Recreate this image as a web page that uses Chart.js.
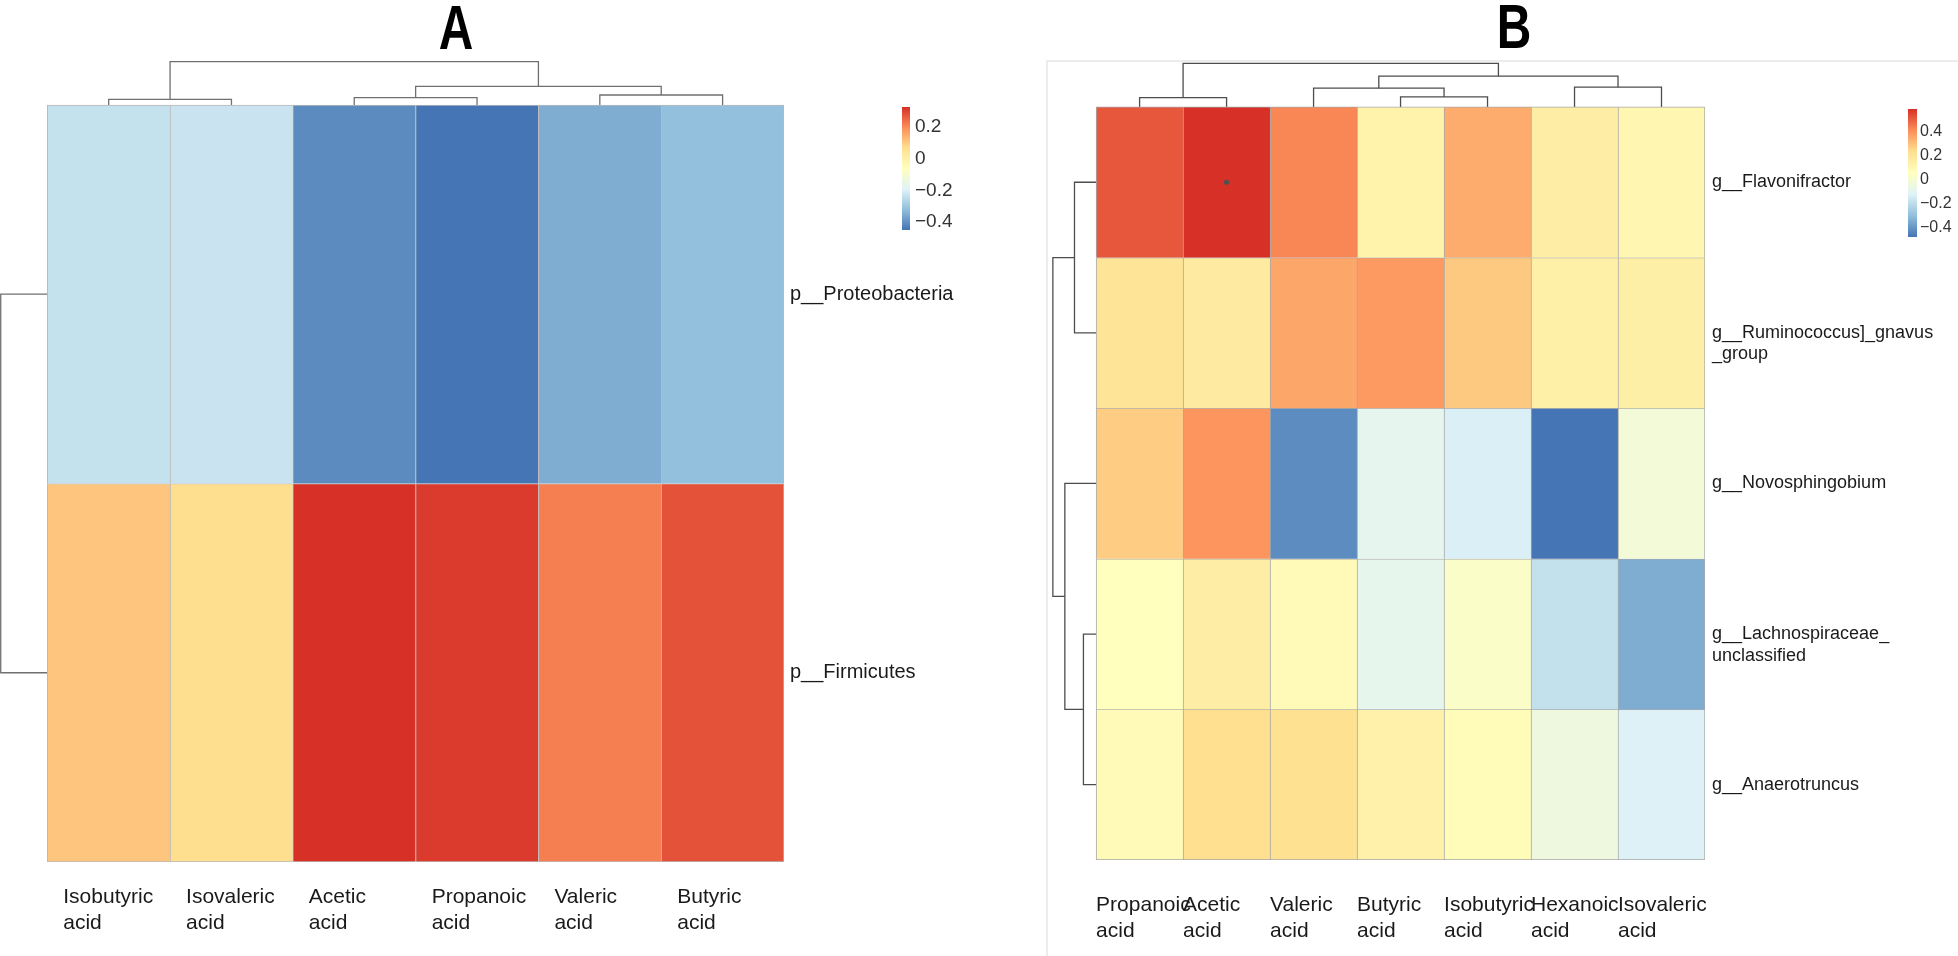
<!DOCTYPE html>
<html>
<head>
<meta charset="utf-8">
<script src="https://cdn.jsdelivr.net/npm/chart.js@4.4.1/dist/chart.umd.min.js"></script>
<style>
  html, body { margin: 0; padding: 0; background: #fff; }
  body { width: 1958px; height: 956px; position: relative; overflow: hidden; }
  .panel-title { position: absolute; width: 80px; text-align: center; font: bold 63px/63px "Liberation Sans", Arial, sans-serif; color: #000; transform: scaleX(0.76); transform-origin: center top; }
  #boxB { position: absolute; left: 1046px; top: 60px; width: 940px; height: 960px; border: 2px solid #ececec; box-sizing: border-box; }
  canvas { position: absolute; }
</style>
</head>
<body>
<div class="panel-title" style="left:416px; top:-4px">A</div>
<div class="panel-title" style="left:1474px; top:-5px">B</div>
<div id="boxB"></div>
<canvas id="heatA" width="1040" height="956" style="left:0; top:0"></canvas>
<canvas id="keyA" width="70" height="140" style="left:896px; top:100px"></canvas>
<canvas id="heatB" width="912" height="956" style="left:1046px; top:0"></canvas>
<canvas id="keyB" width="56" height="145" style="left:1902px; top:100px"></canvas>
<script>
// ---- panel A: phyla vs SCFA ----
const acidsA = ["Isobutyric acid", "Isovaleric acid", "Acetic acid", "Propanoic acid", "Valeric acid", "Butyric acid"];
const phylaA = [["p__Proteobacteria"], ["p__Firmicutes"]];
const proteobacteriaA = [-0.237, -0.229, -0.411, -0.45, -0.352, -0.318];
const firmicutesA = [0.109, 0.07, 0.326, 0.311, 0.216, 0.279];
const rangeA = [-0.45, 0.326];
const keyTicksA = [-0.4, -0.2, 0, 0.2];
// merges like hclust: negative = leaf (1-based), positive = earlier merge; last = height
const colTreeA = [[-1, -2, 0.13], [-3, -4, 0.17], [-5, -6, 0.23], [2, 3, 0.43], [1, 4, 1]];
const rowTreeA = [[-1, -2, 1]];

// ---- panel B: genera vs SCFA ----
const acidsB = ["Propanoic acid", "Acetic acid", "Valeric acid", "Butyric acid", "Isobutyric acid", "Hexanoic acid", "Isovaleric acid"];
const generaB = [["g__Flavonifractor"], ["g__Ruminococcus]_gnavus", "_group"], ["g__Novosphingobium"], ["g__Lachnospiraceae_", "unclassified"], ["g__Anaerotruncus"]];
const flavonifractorB = [0.515, 0.59, 0.425, 0.132, 0.347, 0.16, 0.109];
const ruminococcusB = [0.212, 0.172, 0.359, 0.385, 0.285, 0.143, 0.15];
const novosphingobiumB = [0.278, 0.395, -0.42, -0.085, -0.131, -0.475, -0.017];
const lachnospiraceaeB = [0.06, 0.16, 0.086, -0.083, 0.029, -0.185, -0.34];
const anaerotruncusB = [0.086, 0.235, 0.23, 0.14, 0.08, -0.04, -0.127];
const rangeB = [-0.475, 0.59];
const keyTicksB = [-0.4, -0.2, 0, 0.2, 0.4];
const colTreeB = [[-1, -2, 0.214], [-4, -5, 0.23], [-3, 2, 0.432], [-6, -7, 0.455], [3, 4, 0.706], [1, 5, 1]];
const rowTreeB = [[-1, -2, 0.5], [-4, -5, 0.293], [-3, 2, 0.723], [1, 3, 1]];
const sigB = [[0, 1]]; // [row, col] marked with a dot

const rdylbu = ["#4575B4", "#91BFDB", "#E0F3F8", "#FFFFBF", "#FEE090", "#FC8D59", "#D73027"];
const FONT = '"Liberation Sans", Arial, sans-serif';

function hexRgb(h) {
    return [1, 3, 5].map(i => parseInt(h.slice(i, i + 2), 16));
}

function heatColor(v, range) {
    const n = rdylbu.length - 1;
    const t = Math.min(1, Math.max(0, (v - range[0]) / (range[1] - range[0]))) * n;
    const i = Math.min(Math.floor(t), n - 1), f = t - i;
    const a = hexRgb(rdylbu[i]), b = hexRgb(rdylbu[i + 1]);
    return "rgb(" + a.map((c, k) => Math.round(c + (b[k] - c) * f)).join(",") + ")";
}

function treeSegments(tree, leafPos) {
    const nodes = [];
    const at = id => id < 0 ? { pos: leafPos[-id - 1], h: 0 } : nodes[id - 1];
    return tree.map(([a, b, h]) => {
        const l = at(a), r = at(b);
        nodes.push({ pos: (l.pos + r.pos) / 2, h });
        return [[l.pos, l.h], [l.pos, h], [r.pos, h], [r.pos, r.h]];
    });
}

function fmtKey(v) {
    if (Math.abs(v) < 1e-9) return "0";
    return (v < 0 ? "\u2212" : "") + Math.abs(v).toFixed(1);
}

// keep the plot area where we put it: no extra room for overhanging labels
function fixSize(s, key, val) {
    s[key] = val;
    s.paddingLeft = s.paddingRight = s.paddingTop = s.paddingBottom = 0;
}

function buildHeatmap(id, o) {
    const nR = o.rows.length, nC = o.cols.length;
    const datasets = [];

    (o.marks || []).forEach(([r, c]) => datasets.push({
        type: "scatter", order: -1,
        data: [{ x: c + 0.5, y: nR - r - 0.5 }],
        pointRadius: 2.6, pointBackgroundColor: "#505050", pointBorderWidth: 0
    }));

    o.values.forEach((rowVals, r) => datasets.push({
        type: "bar",
        data: rowVals.map((v, c) => ({ x: c + 0.5, y: [nR - r - 1, nR - r] })),
        backgroundColor: rowVals.map(v => heatColor(v, o.range)),
        borderColor: o.cellLine,
        borderWidth: rowVals.map((v, c) => ({ left: 1, top: 1, right: c === nC - 1 ? 1 : 0, bottom: r === nR - 1 ? 1 : 0 })),
        borderSkipped: false, grouped: false, barPercentage: 1, categoryPercentage: 1
    }));

    treeSegments(o.colTree, o.cols.map((_, c) => c + 0.5)).forEach(seg => datasets.push({
        type: "line",
        data: seg.map(([p, h]) => ({ x: p, y: nR + h * o.colTreeSpan })),
        borderColor: o.treeColor, borderWidth: 1.3, pointRadius: 0, fill: false, tension: 0
    }));
    treeSegments(o.rowTree, o.rows.map((_, r) => nR - r - 0.5)).forEach(seg => datasets.push({
        type: "line",
        data: seg.map(([p, h]) => ({ x: -h * o.rowTreeSpan, y: p })),
        borderColor: o.treeColor, borderWidth: 1.3, pointRadius: 0, fill: false, tension: 0
    }));

    const lineH = o.rowFont * 1.2;
    new Chart(document.getElementById(id), {
        type: "bar",
        data: { datasets },
        options: {
            responsive: false, animation: false, events: [],
            layout: { padding: { left: o.padL, top: o.padT, right: 0, bottom: 0 } },
            plugins: { legend: { display: false }, tooltip: { enabled: false } },
            scales: {
                x: {
                    type: "linear", position: "bottom", min: o.xMin, max: nC, offset: false,
                    afterBuildTicks: s => { s.ticks = o.cols.map((_, c) => ({ value: c })); },
                    afterFit: s => fixSize(s, "height", o.xAxisH),
                    grid: { display: false, drawTicks: false }, border: { display: false },
                    ticks: {
                        autoSkip: false, maxRotation: 0, minRotation: 0, align: "start",
                        labelOffset: o.colShift, padding: o.colPad, color: "#1a1a1a",
                        font: { family: FONT, size: o.colFont, lineHeight: 1.2 },
                        callback: (v, i) => o.cols[i].split(" ")
                    }
                },
                y: {
                    type: "linear", position: "right", min: 0, max: nR + o.topSpace,
                    afterBuildTicks: s => {
                        s.ticks = o.rows.map((lab, r) => ({ value: nR - r - 0.5 - (lab.length - 1) * lineH / 2 / o.rowPx }));
                    },
                    afterFit: s => fixSize(s, "width", o.yAxisW),
                    grid: { display: false, drawTicks: false }, border: { display: false },
                    ticks: {
                        autoSkip: false, padding: o.rowPad, color: "#1a1a1a",
                        font: { family: FONT, size: o.rowFont, lineHeight: 1.2 },
                        callback: (v, i) => o.rows[i]
                    }
                }
            }
        }
    });
}

function buildKey(id, range, ticks, o) {
    new Chart(document.getElementById(id), {
        type: "bar",
        data: {
            labels: [""],
            datasets: [{
                data: [range], borderWidth: 0, barPercentage: 1, categoryPercentage: 1,
                backgroundColor: ctx => {
                    const ch = ctx.chart;
                    if (!ch.chartArea) return rdylbu[3];
                    const y = ch.scales.y;
                    const g = ch.ctx.createLinearGradient(0, y.getPixelForValue(range[0]), 0, y.getPixelForValue(range[1]));
                    rdylbu.forEach((c, i) => g.addColorStop(i / (rdylbu.length - 1), c));
                    return g;
                }
            }]
        },
        options: {
            responsive: false, animation: false, events: [],
            layout: { padding: { left: o.padL, top: o.padT, bottom: o.padB, right: 0 } },
            plugins: { legend: { display: false }, tooltip: { enabled: false } },
            scales: {
                x: { display: false },
                y: {
                    position: "right", min: range[0], max: range[1],
                    afterBuildTicks: s => { s.ticks = ticks.map(v => ({ value: v })); },
                    afterFit: s => fixSize(s, "width", o.axisW),
                    grid: { display: false, drawTicks: false }, border: { display: false },
                    ticks: { padding: o.pad, color: "#333", font: { family: FONT, size: o.font }, callback: v => fmtKey(v) }
                }
            }
        }
    });
}

buildHeatmap("heatA", {
    cols: acidsA, rows: phylaA, values: [proteobacteriaA, firmicutesA], range: rangeA,
    colTree: colTreeA, rowTree: rowTreeA, marks: [],
    xMin: -0.385, topSpace: 0.132, colTreeSpan: 0.1147, rowTreeSpan: 0.379, rowPx: 378.5,
    padL: 0, padT: 55, xAxisH: 94, yAxisW: 256,
    colFont: 21, colPad: 23, colShift: 16, rowFont: 20, rowPad: 6,
    cellLine: "#b9b9b9", treeColor: "#707070"
});
buildKey("keyA", rangeA, keyTicksA, { padL: 6, padT: 7, padB: 10, axisW: 56, pad: 5, font: 19 });

buildHeatmap("heatB", {
    cols: acidsB, rows: generaB,
    values: [flavonifractorB, ruminococcusB, novosphingobiumB, lachnospiraceaeB, anaerotruncusB], range: rangeB,
    colTree: colTreeB, rowTree: rowTreeB, marks: sigB,
    xMin: -0.53, topSpace: 0.325, colTreeSpan: 0.289, rowTreeSpan: 0.497, rowPx: 150.6,
    padL: 3, padT: 58, xAxisH: 96, yAxisW: 253,
    colFont: 21, colPad: 33, colShift: 0, rowFont: 18, rowPad: 7,
    cellLine: "#a9a9a9", treeColor: "#4d4d4d"
});
buildKey("keyB", rangeB, keyTicksB, { padL: 6, padT: 9, padB: 8, axisW: 41, pad: 3, font: 16 });
</script>
</body>
</html>
